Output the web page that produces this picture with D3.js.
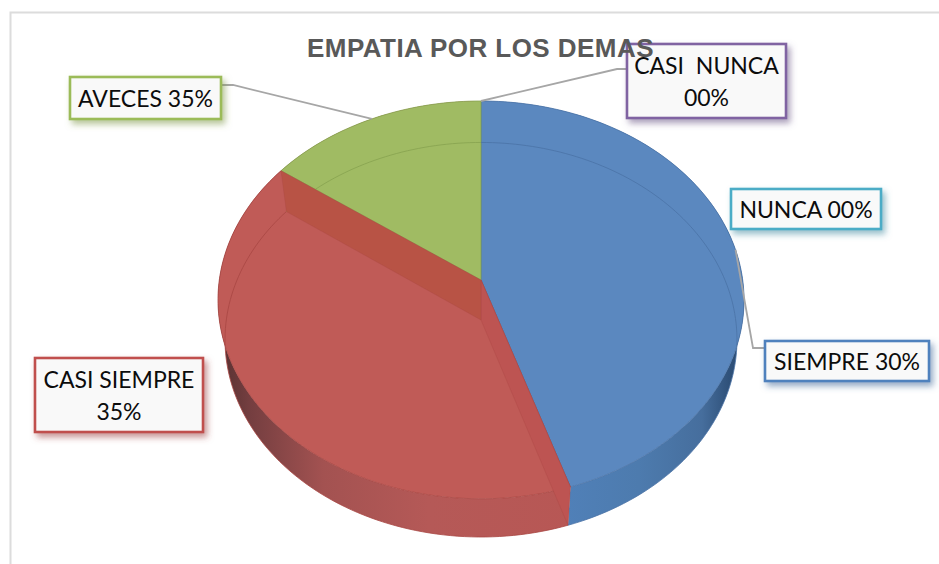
<!DOCTYPE html>
<meta charset="utf-8">
<style>
  body { margin: 0; background: #fff; }
  svg { display: block; }
  .title { font: bold 26px "Liberation Sans", Arial, sans-serif; letter-spacing: 0.45px; fill: #595959; }
  .box text { font: 23px Lato, "Open Sans", sans-serif; fill: #0c0c0c; text-anchor: middle; white-space: pre; }
</style>
<svg width="939" height="564"></svg>
<script src="https://d3js.org/d3.v7.min.js"></script>
<script>
  // slice sizes, the label texts are what the boxes say
  var categories = ["SIEMPRE", "CASI SIEMPRE", "AVECES", "CASI NUNCA", "NUNCA"];
  var values = [45, 40, 15, 0, 0];
  var labelLines = [["SIEMPRE 30%"], ["CASI SIEMPRE", "35%"], ["AVECES 35%"], ["CASI  NUNCA", "00%"], ["NUNCA 00%"]];
  var faceColors = ["#5b88bf", "#c05b57", "#a0bb63", "#8064a2", "#4bacc6"];
  var boxColors = ["#4f81bd", "#c0504d", "#9bbb59", "#8064a2", "#4bacc6"];
  var ringColors = ["#4a72a6", "#a84643", "#86a24f", "#8064a2", "#4bacc6"];

  // label boxes: x0, y0, x1, y1
  var boxes = [[765, 341, 929, 381], [35, 358, 203, 432], [70, 77, 221, 119], [627, 44, 786, 118], [731, 189, 881, 229]];
  // elbow of each leader, from the box to the pie
  var leaders = [[[765, 348], [753, 348]], null, [[221, 85], [233, 85]], [[627, 69], [617, 69]], null];
  var linePitch = 32;

  var svg = d3.select("svg");

  var defs = svg.append("defs");
  boxColors.forEach(function (c, i) {
    defs.append("filter").attr("id", "shadow" + i)
      .attr("x", "-20%").attr("y", "-30%").attr("width", "140%").attr("height", "170%")
      .append("feDropShadow")
      .attr("dx", 3).attr("dy", 4).attr("stdDeviation", 3)
      .attr("flood-color", d3.color(c).darker(0.6)).attr("flood-opacity", 0.55);
  });

  function sideGradient(id, stops) {
    var g = defs.append("linearGradient").attr("id", id)
      .attr("gradientUnits", "userSpaceOnUse")
      .attr("x1", 218).attr("x2", 744).attr("y1", 0).attr("y2", 0);
    stops.forEach(function (s) {
      g.append("stop").attr("offset", s[0]).attr("stop-color", s[1]);
    });
  }
  sideGradient("sideRed", [[0, "#563030"], [0.06, "#743e40"], [0.2, "#a35251"], [0.4, "#b55957"], [1, "#bb5552"]]);
  sideGradient("sideBlue", [[0.66, "#5080b8"], [0.8, "#4d7bae"], [0.92, "#466e9d"], [0.97, "#30527b"], [1, "#2a4a70"]]);

  // chart frame, runs off the right and bottom of the picture
  svg.append("path")
    .attr("d", "M10.5,564V12.5H939")
    .attr("fill", "none").attr("stroke", "#dcdcdc").attr("stroke-width", 2);

  // upper and lower rim of the disc, with a bit of perspective
  var persp = 0.1;
  var upper = { cx: 481, cy: 280, kx: 261.7, ky: 196.9 };
  var lower = { cx: 481, cy: 320, kx: 254.7, ky: 195.3 };

  function project(a, rim) {
    var d = 1 + persp * Math.cos(a);
    return [rim.cx + rim.kx * Math.sin(a) / d, rim.cy - rim.ky * Math.cos(a) / d];
  }

  function rimPoints(a0, a1, rim) {
    var n = Math.max(2, Math.ceil((a1 - a0) * 40));
    return d3.range(n + 1).map(function (i) {
      return project(a0 + (a1 - a0) * i / n, rim);
    });
  }

  var line = d3.line();
  var slices = d3.pie().sort(null).value(function (d) { return d; })(values);
  var drawn = slices.filter(function (s) { return s.value > 0; });

  var pie = svg.append("g");

  // side band
  pie.selectAll(".side").data(drawn).enter().append("path")
    .attr("d", function (s) {
      return line(rimPoints(s.startAngle, s.endAngle, upper)
        .concat(rimPoints(s.startAngle, s.endAngle, lower).reverse())) + "Z";
    })
    .attr("fill", function (s) { return s.index == 0 ? "url(#sideBlue)" : "url(#sideRed)"; });

  // top faces
  pie.selectAll(".face").data(drawn).enter().append("path")
    .attr("d", function (s) {
      return line([[upper.cx, upper.cy]].concat(rimPoints(s.startAngle, s.endAngle, upper))) + "Z";
    })
    .attr("fill", function (s) { return faceColors[s.index]; })
    .attr("stroke", function (s) { return ringColors[s.index]; })
    .attr("stroke-width", 0.8);

  // far rim shows through the transparent disc
  pie.selectAll(".ring").data(drawn).enter().append("path")
    .attr("d", function (s) { return line(rimPoints(s.startAngle, s.endAngle, lower)); })
    .attr("fill", "none")
    .attr("stroke", function (s) { return ringColors[s.index]; })
    .attr("stroke-width", 0.8);

  // inner walls of the red slice, seen through it
  var red = slices[1];
  var walls = [
    { a: red.startAngle, fill: "#bd5452" },
    { a: red.endAngle, fill: "#b85345" }
  ];
  pie.selectAll(".wall").data(walls).enter().append("path")
    .attr("d", function (w) {
      return line([[upper.cx, upper.cy], project(w.a, upper), project(w.a, lower), [lower.cx, lower.cy]]) + "Z";
    })
    .attr("fill", function (w) { return w.fill; })
    .attr("stroke", "#a84643").attr("stroke-width", 0.5).attr("stroke-opacity", 0.6);

  // leaders run to the middle of the slice on the upper rim
  slices.forEach(function (s, i) {
    if (!leaders[i]) return;
    var mid = (s.startAngle + s.endAngle) / 2;
    svg.append("path")
      .attr("d", line(leaders[i].concat([project(mid, upper)])))
      .attr("fill", "none").attr("stroke", "#a6a6a6").attr("stroke-width", 1.8);
  });

  var box = svg.selectAll(".box").data(categories).enter().append("g").attr("class", "box");

  box.append("rect")
    .attr("x", function (d, i) { return boxes[i][0]; })
    .attr("y", function (d, i) { return boxes[i][1]; })
    .attr("width", function (d, i) { return boxes[i][2] - boxes[i][0]; })
    .attr("height", function (d, i) { return boxes[i][3] - boxes[i][1]; })
    .attr("fill", "#f9f9f9")
    .attr("stroke", function (d, i) { return boxColors[i]; })
    .attr("stroke-width", 2.6)
    .attr("filter", function (d, i) { return "url(#shadow" + i + ")"; });

  box.each(function (d, i) {
    var b = boxes[i], lines = labelLines[i];
    var mid = (b[1] + b[3]) / 2;
    d3.select(this).selectAll("text").data(lines).enter().append("text")
      .attr("x", (b[0] + b[2]) / 2)
      .attr("y", function (t, j) { return mid + (j - (lines.length - 1) / 2) * linePitch + 9; })
      .text(function (t) { return t; });
  });

  svg.append("text").attr("class", "title").attr("x", 307).attr("y", 57).text("EMPATIA POR LOS DEMAS");
</script>
